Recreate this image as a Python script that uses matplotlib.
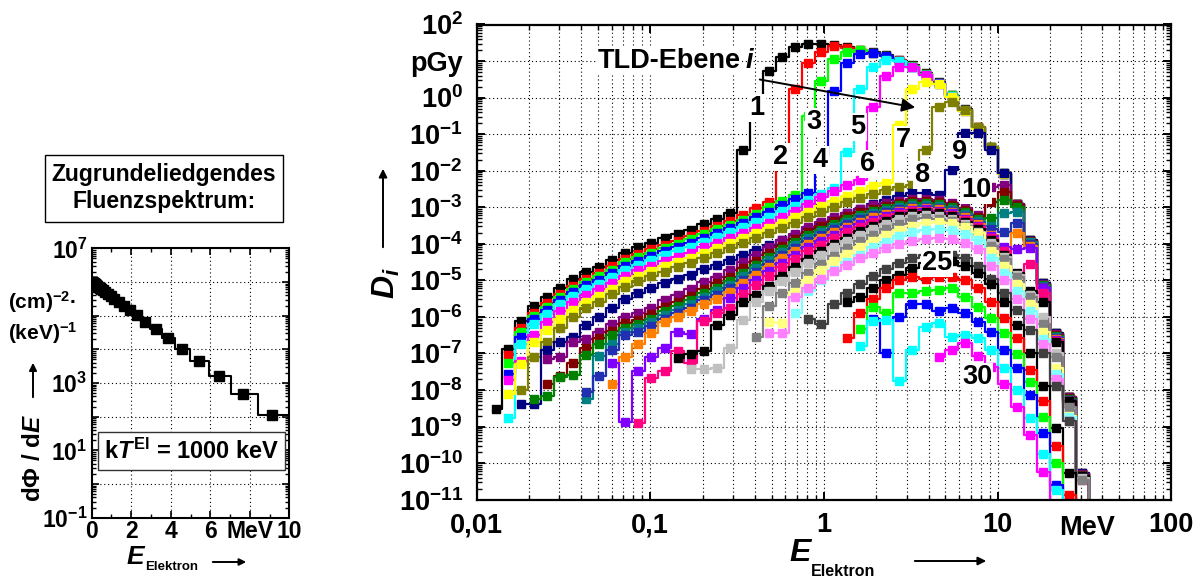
import matplotlib
matplotlib.use('Agg')
import matplotlib.pyplot as plt
from matplotlib.patches import Rectangle
from matplotlib.ticker import LogLocator, NullFormatter
import numpy as np

plt.rcParams['font.family'] = 'Liberation Sans'
plt.rcParams['font.weight'] = 'bold'
plt.rcParams['mathtext.fontset'] = 'custom'
plt.rcParams['mathtext.rm'] = 'Liberation Sans:bold'
plt.rcParams['mathtext.bf'] = 'Liberation Sans:bold'
plt.rcParams['mathtext.sf'] = 'Liberation Sans:bold'
plt.rcParams['mathtext.it'] = 'Liberation Sans:italic:bold'

# energy bin centres (MeV), shared by both panels
energy = [0.0129, 0.0151, 0.0180, 0.0214, 0.0255, 0.0303, 0.0360, 0.0428, 0.0509, 0.0605,
          0.0719, 0.0855, 0.1016, 0.1208, 0.1436, 0.1707, 0.2030, 0.2413, 0.2869, 0.3410,
          0.4055, 0.4820, 0.5731, 0.6814, 0.8100, 0.9629, 1.145, 1.361, 1.618, 1.923,
          2.287, 2.719, 3.232, 3.842, 4.568, 5.431, 6.457, 7.677, 9.127, 10.85,
          12.90, 15.34, 18.24, 21.68, 25.77, 30.64, 36.43]

# fluence spectrum, log10 of dPhi/dE
fluence = [6.00, 6.00, 5.99, 5.99, 5.99, 5.99, 5.98, 5.98, 5.98, 5.97,
           5.97, 5.96, 5.96, 5.95, 5.94, 5.93, 5.91, 5.90, 5.88, 5.85,
           5.82, 5.79, 5.75, 5.70, 5.65, 5.58, 5.50, 5.41, 5.30, 5.17,
           5.01, 4.82, 4.60, 4.33, 4.02, 3.64, 3.20, 2.67, 2.04]

# dose per bin for TLD layer i, log10(D / pGy); first_bin = index of first energy bin
d01 = [-8.51, -6.87, -6.11, -5.70, -5.46, -5.20, -4.97, -4.77, -4.63, -4.44,
       -4.24, -4.10, -3.97, -3.85, -3.74, -3.62, -3.46, -3.33, -3.17, -1.43,
       -0.30, 0.74, 1.12, 1.38, 1.46, 1.47, 1.43, 1.38, 1.31, 1.24,
       1.16, 1.03, 0.88, 0.66, 0.42, 0.08, -0.32, -0.80, -1.34, -2.07,
       -2.90, -3.90, -5.08, -6.45, -8.18, -10.28]
d02 = [-7.05, -6.30, -5.88, -5.63, -5.37, -5.15, -4.95, -4.80, -4.62, -4.42,
       -4.28, -4.15, -4.03, -3.92, -3.80, -3.65, -3.50, -3.37, -3.22, -3.03,
       -2.85, -1.50, 0.23, 0.96, 1.26, 1.41, 1.37, 1.30, 1.23, 1.15,
       1.02, 0.87, 0.65, 0.41, 0.07, -0.33, -0.81, -1.35, -2.08, -2.91,
       -3.91, -5.09, -6.46, -8.19, -10.29]
d03 = [-7.27, -6.40, -5.97, -5.72, -5.46, -5.24, -5.04, -4.89, -4.71, -4.51,
       -4.37, -4.24, -4.12, -4.00, -3.88, -3.74, -3.60, -3.48, -3.34, -3.18,
       -3.00, -2.82, -2.67, -0.50, 0.45, 1.05, 1.26, 1.30, 1.22, 1.14,
       1.01, 0.86, 0.64, 0.40, 0.06, -0.34, -0.82, -1.36, -2.09, -2.92,
       -3.92, -5.10, -6.47, -8.20, -10.30]
d04 = [-7.56, -6.55, -6.06, -5.81, -5.55, -5.33, -5.13, -4.98, -4.80, -4.60,
       -4.46, -4.33, -4.21, -4.09, -3.97, -3.83, -3.70, -3.57, -3.43, -3.28,
       -3.12, -2.95, -2.78, -2.62, -1.60, 0.18, 0.94, 1.18, 1.21, 1.13,
       1.00, 0.85, 0.63, 0.39, 0.05, -0.35, -0.83, -1.37, -2.10, -2.93,
       -3.93, -5.11, -6.48, -8.21, -10.31]
d05 = [-8.77, -6.75, -6.20, -5.92, -5.66, -5.44, -5.24, -5.09, -4.91, -4.71,
       -4.57, -4.44, -4.32, -4.20, -4.08, -3.94, -3.81, -3.68, -3.55, -3.41,
       -3.26, -3.11, -2.96, -2.80, -2.64, -2.48, -1.48, 0.24, 0.85, 1.03,
       0.99, 0.84, 0.62, 0.38, 0.04, -0.36, -0.84, -1.38, -2.10, -2.93,
       -3.93, -5.11, -6.48, -8.21, -10.31]
d06 = [-7.73, -7.22, -6.50, -6.15, -5.85, -5.60, -5.40, -5.25, -5.07, -4.88,
       -4.73, -4.60, -4.48, -4.36, -4.24, -4.10, -3.97, -3.84, -3.71, -3.57,
       -3.42, -3.27, -3.10, -2.92, -2.72, -2.55, -2.40, -2.25, -0.27, 0.59,
       0.85, 0.83, 0.61, 0.37, 0.03, -0.37, -0.85, -1.38, -2.10, -2.93,
       -3.93, -5.11, -6.48, -8.21, -10.31]
d07 = [-8.11, -7.30, -6.70, -6.35, -6.05, -5.80, -5.58, -5.42, -5.23, -5.03,
       -4.88, -4.75, -4.62, -4.50, -4.38, -4.24, -4.11, -3.98, -3.85, -3.71,
       -3.57, -3.42, -3.27, -3.12, -2.97, -2.83, -2.69, -2.56, -2.43, -2.33,
       -0.75, 0.23, 0.44, 0.36, 0.02, -0.38, -0.85, -1.39, -2.10, -2.93,
       -3.93, -5.11, -6.48, -8.21, -10.31]
d08 = [-8.00, -7.10, -6.70, -6.30, -6.00, -5.76, -5.58, -5.38, -5.17, -5.02,
       -4.89, -4.76, -4.64, -4.52, -4.38, -4.25, -4.12, -3.99, -3.85, -3.71,
       -3.57, -3.42, -3.28, -3.14, -3.00, -2.87, -2.75, -2.63, -2.52, -2.44,
       -2.39, -1.43, -0.27, -0.11, -0.34, -0.80, -1.34, -2.07, -2.90, -3.90,
       -5.08, -6.45, -8.18, -10.28]
d09 = [-8.39, -8.39, -6.90, -6.70, -6.55, -6.22, -6.00, -5.75, -5.50, -5.35,
       -5.21, -5.08, -4.96, -4.84, -4.70, -4.57, -4.44, -4.31, -4.18, -4.04,
       -3.90, -3.75, -3.60, -3.45, -3.31, -3.17, -3.04, -2.92, -2.80, -2.70,
       -2.62, -2.60, -2.66, -1.98, -0.98, -0.96, -1.43, -2.07, -2.90, -3.90,
       -5.08, -6.45, -8.18, -10.28]
d10 = [-7.15, -7.10, -6.70, -6.60, -6.40, -6.20, -6.00, -5.90, -5.75, -5.55,
       -5.40, -5.25, -5.05, -4.90, -4.72, -4.50, -4.30, -4.10, -3.90, -3.72,
       -3.55, -3.40, -3.27, -3.15, -3.04, -2.95, -2.88, -2.82, -2.78, -2.77,
       -2.80, -2.88, -3.02, -3.22, -2.44, -2.40, -2.90, -3.92, -5.10, -6.47,
       -8.20, -10.30]
d11 = [-7.84, -7.62, -7.25, -6.85, -6.58, -6.38, -6.18, -6.08, -5.93, -5.73,
       -5.58, -5.43, -5.23, -5.08, -4.90, -4.67, -4.46, -4.25, -4.05, -3.86,
       -3.68, -3.52, -3.38, -3.25, -3.13, -3.04, -2.96, -2.89, -2.84, -2.83,
       -2.86, -2.94, -3.08, -3.28, -2.85, -2.57, -2.95, -3.93, -5.12, -6.50,
       -8.22, -10.32]
d12 = [-8.25, -8.16, -7.64, -7.60, -7.05, -6.75, -6.50, -6.30, -6.20, -6.05,
       -5.85, -5.70, -5.55, -5.35, -5.20, -5.02, -4.79, -4.57, -4.36, -4.15,
       -3.95, -3.77, -3.61, -3.46, -3.33, -3.20, -3.10, -3.02, -2.94, -2.89,
       -2.88, -2.91, -2.99, -3.13, -3.33, -3.30, -2.80, -3.00, -3.94, -5.14,
       -6.52, -8.24, -10.34]
d13 = [-8.25, -7.07, -6.75, -6.40, -6.30, -6.15, -5.95, -5.80, -5.65, -5.45,
       -5.30, -5.12, -4.88, -4.67, -4.45, -4.23, -4.03, -3.85, -3.68, -3.53,
       -3.40, -3.27, -3.16, -3.07, -3.00, -2.94, -2.93, -2.96, -3.04, -3.18,
       -3.38, -3.50, -3.17, -3.12, -3.96, -5.16, -6.55, -8.26, -10.36]
d14 = [-8.05, -7.62, -6.90, -6.50, -6.40, -6.25, -6.05, -5.90, -5.75, -5.55,
       -5.40, -5.22, -4.98, -4.76, -4.54, -4.32, -4.12, -3.93, -3.76, -3.60,
       -3.46, -3.33, -3.22, -3.13, -3.05, -2.99, -2.98, -3.01, -3.09, -3.23,
       -3.43, -3.60, -3.67, -3.44, -4.00, -5.18, -6.57, -8.28, -10.38]
d15 = [-7.84, -7.09, -6.75, -6.45, -6.15, -6.00, -5.85, -5.65, -5.50, -5.32,
       -5.08, -4.85, -4.63, -4.40, -4.20, -4.00, -3.83, -3.67, -3.53, -3.39,
       -3.28, -3.18, -3.10, -3.03, -3.02, -3.05, -3.13, -3.27, -3.47, -3.75,
       -4.22, -3.71, -4.05, -5.20, -6.60, -8.30, -10.40]
d16 = [-7.27, -8.87, -7.47, -7.10, -6.84, -6.40, -6.48, -6.05, -5.81, -5.47,
       -5.22, -4.98, -4.75, -4.52, -4.31, -4.10, -3.92, -3.76, -3.60, -3.46,
       -3.34, -3.24, -3.14, -3.07, -3.06, -3.09, -3.17, -3.31, -3.51, -3.80,
       -4.10, -4.15, -4.12, -5.22, -6.62, -8.32, -10.42]
d17 = [-8.91, -7.68, -7.48, -6.92, -7.27, -6.10, -5.90, -5.75, -5.36, -5.12,
       -4.88, -4.64, -4.42, -4.21, -4.02, -3.84, -3.68, -3.53, -3.40, -3.29,
       -3.19, -3.11, -3.10, -3.13, -3.21, -3.35, -3.55, -3.85, -4.20, -4.85,
       -4.55, -5.35, -6.65, -8.35, -10.45]
d18 = [-7.13, -7.02, -6.93, -6.22, -5.95, -5.60, -5.41, -5.15, -4.88, -4.64,
       -4.41, -4.20, -4.01, -3.83, -3.66, -3.50, -3.37, -3.25, -3.15, -3.14,
       -3.17, -3.25, -3.39, -3.60, -3.90, -4.30, -4.80, -5.30, -5.58, -6.68,
       -8.30, -10.35]
d19 = [-7.43, -7.42, -7.41, -6.86, -6.08, -5.60, -5.30, -5.02, -4.76, -4.52,
       -4.30, -4.10, -3.92, -3.75, -3.59, -3.45, -3.33, -3.23, -3.21, -3.24,
       -3.32, -3.47, -3.68, -3.97, -4.35, -4.85, -5.40, -6.00, -7.00, -8.50,
       -10.40]
d20 = [-6.54, -5.70, -5.35, -5.07, -4.80, -4.55, -4.33, -4.12, -3.93, -3.76,
       -3.60, -3.46, -3.33, -3.30, -3.32, -3.38, -3.52, -3.72, -4.05, -4.42,
       -4.90, -5.45, -6.20, -7.09, -8.46, -10.46]
d21 = [-6.13, -6.18, -5.31, -5.00, -4.72, -4.48, -4.28, -4.10, -3.92, -3.77,
       -3.63, -3.50, -3.43, -3.41, -3.44, -3.53, -3.70, -4.20, -4.60, -5.10,
       -5.65, -6.40, -7.40, -8.70]
d22 = [-5.90, -5.30, -5.00, -4.72, -4.50, -4.30, -4.10, -3.94, -3.80, -3.68,
       -3.62, -3.60, -3.63, -3.72, -3.90, -4.40, -4.80, -5.30, -5.85, -6.60,
       -7.55, -8.75]
d23 = [-6.43, -6.43, -5.45, -5.20, -4.95, -4.75, -4.57, -4.40, -4.25, -4.12,
       -4.00, -3.92, -3.86, -3.85, -3.88, -3.98, -4.15, -4.60, -5.00, -5.50,
       -6.05, -6.75, -7.70, -8.85]
d24 = [-6.07, -6.20, -5.65, -5.35, -5.10, -4.88, -4.68, -4.52, -4.40, -4.30,
       -4.28, -4.30, -4.40, -4.60, -4.95, -5.35, -5.80, -6.35, -7.00, -7.90,
       -8.85]
d25 = [-5.58, -5.45, -5.22, -5.00, -4.85, -4.67, -4.52, -4.44, -4.47, -4.60,
       -4.81, -5.10, -5.60, -6.22, -7.00, -7.90, -9.05, -10.28]
d26 = [-6.59, -5.90, -5.50, -5.20, -5.00, -4.90, -4.95, -4.90, -4.90, -4.99,
       -5.22, -5.58, -6.04, -6.59, -7.45, -8.29, -9.52, -10.87]
d27 = [-6.34, -5.74, -5.90, -5.35, -5.35, -5.30, -5.26, -5.20, -5.45, -5.74,
       -6.04, -6.45, -7.02, -7.77, -8.73, -10.00]
d28 = [-6.05, -7.00, -6.01, -5.65, -5.65, -5.85, -5.75, -5.90, -6.13, -6.42,
       -6.90, -7.41, -8.14, -9.18, -10.60]
d29 = [-6.80, -6.10, -6.08, -7.75, -6.90, -6.27, -6.16, -6.54, -6.50, -6.59,
       -6.90, -7.41, -8.00, -8.77, -9.75, -10.74]
d30 = [-7.09, -6.91, -6.72, -7.07, -7.36, -7.84, -8.46, -9.23, -10.24]

first_bin = [0, 1, 1, 1, 1, 1, 1, 2, 2, 4, 4, 3, 7, 7, 9, 9, 11, 14, 15, 20,
             21, 23, 21, 24, 27, 27, 28, 29, 28, 34]
curve_colors = ['#000000', '#FF0000', '#00FF00', '#0000FF', '#00FFFF', '#FF00FF',
                '#FFFF00', '#808000', '#000080', '#800080', '#800000', '#008000',
                '#008080', '#2030B0', '#FF8000', '#8000FF', '#FF0080', '#000000',
                '#C0C0C0', '#808080', '#FFFF80', '#80FFFF', '#FF80FF', '#404040',
                '#000000', '#FF0000', '#00FF00', '#0000FF', '#00FFFF', '#FF00FF']
dose = [d01, d02, d03, d04, d05, d06, d07, d08, d09, d10, d11, d12, d13, d14, d15,
        d16, d17, d18, d19, d20, d21, d22, d23, d24, d25, d26, d27, d28, d29, d30]

left_xticks = ['0', '2', '4', '6', 'MeV', '10']
left_yticks = [r'$10^{-1}$', '', r'$10^{1}$', '', r'$10^{3}$', '', '', '', r'$10^{7}$']
right_xticks = ['0,01', '0,1', '1', '10', '100']
right_yticks = [r'$10^{-11}$', r'$10^{-10}$', r'$10^{-9}$', r'$10^{-8}$', r'$10^{-7}$',
                r'$10^{-6}$', r'$10^{-5}$', r'$10^{-4}$', r'$10^{-3}$', r'$10^{-2}$',
                r'$10^{-1}$', r'$10^{0}$', 'pGy', r'$10^{2}$']
curve_labels = ['1', '2', '3', '4', '5', '6', '7', '8', '9', '10', '25', '30']
label_pos = [(757, 108), (781, 157), (814, 122), (820, 160), (858, 127), (868, 164),
             (903, 140), (922, 175), (960, 152), (976, 190), (937, 263), (977, 377)]

W, H = 1204, 579
fig = plt.figure(figsize=(W / 100, H / 100), dpi=100)


def fpos(x, y):
    return x / W, 1 - y / H


def arrow(x0, y0, x1, y1, ms=14):
    fig.add_artist(matplotlib.patches.FancyArrowPatch(
        (x0, H - y0), (x1, H - y1), transform=None, arrowstyle='-|>',
        mutation_scale=ms, lw=1.4, color='k'))


grid_kw = dict(color='k', lw=0.8, ls=(0, (1, 2.5)))

# ---- left panel: fluence spectrum
ax1 = fig.add_axes([91.7 / W, 1 - 517.7 / H, 197.6 / W, 269.4 / H])
ax1.set_yscale('log')
ax1.set_xlim(0, 10)
ax1.set_ylim(0.1, 1e7)
fl = [10.0 ** v for v in fluence]
ax1.plot(energy[:len(fl) + 1], fl + [fl[-1]], drawstyle='steps-mid', color='k', lw=1.5)
ax1.plot(energy[:len(fl)], fl, ls='none', marker='s', ms=6.5, color='k')
ax1.set_xticks([0, 2, 4, 6, 8, 10])
ax1.set_xticklabels(left_xticks, fontsize=16.5)
ax1.set_xticks([1, 3, 5, 7, 9], minor=True)
ax1.set_yticks([10.0 ** k for k in range(-1, 8)])
ax1.set_yticklabels(left_yticks, fontsize=16.5)
ax1.yaxis.set_minor_locator(LogLocator(base=10, subs=np.arange(2, 10), numticks=30))
ax1.yaxis.set_minor_formatter(NullFormatter())
ax1.tick_params(which='both', direction='in', top=True, right=True)
ax1.tick_params(which='major', length=5, width=1.2)
ax1.tick_params(which='minor', length=3, width=1)
ax1.tick_params(axis='x', pad=2)
ax1.tick_params(axis='y', pad=3)
ax1.grid(True, which='major', **grid_kw)
ax1.set_axisbelow(True)
for s in ax1.spines.values():
    s.set_linewidth(1.5)

# ---- right panel: dose per energy bin
ax2 = fig.add_axes([476.6 / W, 1 - 499.65 / H, 694.8 / W, 475.15 / H])
ax2.set_xscale('log')
ax2.set_yscale('log')
for vals, b0, col in zip(dose, first_bin, curve_colors):
    xs = energy[b0:b0 + len(vals) + 1]
    ys = [10.0 ** v for v in vals] + [1e-14]
    ax2.plot(xs, ys, drawstyle='steps-mid', color=col, lw=1.6,
             marker='s', ms=5.5, mec=col, mfc=col)
ax2.set_xlim(0.01, 100)
ax2.set_ylim(1e-11, 1e2)
ax2.set_xticks([0.01, 0.1, 1, 10, 100])
ax2.set_xticklabels(right_xticks, fontsize=19.5)
ax2.xaxis.set_minor_locator(LogLocator(base=10, subs=np.arange(2, 10), numticks=30))
ax2.xaxis.set_minor_formatter(NullFormatter())
ax2.set_yticks([10.0 ** k for k in range(-11, 3)])
ax2.set_yticklabels(right_yticks, fontsize=19.5)
ax2.yaxis.set_minor_locator(LogLocator(base=10, subs=np.arange(2, 10), numticks=30))
ax2.yaxis.set_minor_formatter(NullFormatter())
ax2.tick_params(which='both', direction='in', top=True, right=True)
ax2.tick_params(which='major', length=6, width=1.4)
ax2.tick_params(which='minor', length=3.5, width=1)
ax2.tick_params(axis='x', pad=9)
ax2.tick_params(axis='y', pad=10)
ax2.grid(True, axis='x', which='both', **grid_kw)
ax2.grid(True, axis='y', which='major', **grid_kw)
ax2.set_axisbelow(True)
for s in ax2.spines.values():
    s.set_linewidth(1.6)

# curve labels with white background
for txt, (px, py) in zip(curve_labels, label_pos):
    fig.text(*fpos(px, py), txt, fontsize=19.5, ha='center', va='center',
             bbox=dict(boxstyle='square,pad=0.05', fc='white', ec='none'))
fig.text(*fpos(741, 61), 'TLD-Ebene', fontsize=19.5, ha='right', va='center',
         bbox=dict(boxstyle='square,pad=0.05', fc='white', ec='none'))
fig.text(*fpos(746, 61), 'i', fontsize=19.5, style='italic', ha='left', va='center')
arrow(757, 79, 918, 108, ms=20)

# right axis titles
fig.text(*fpos(1087, 528), 'MeV', fontsize=19.5, ha='center', va='center')
fig.text(*fpos(801, 553), r'$E$', fontsize=23, ha='center', va='center')
fig.text(*fpos(811, 571), 'Elektron', fontsize=11.5, ha='left', va='center')
arrow(912, 561, 989, 561, ms=12)
fig.text(*fpos(386, 283), r'$D_{i}$', fontsize=23, rotation=90, ha='center', va='center')
arrow(383, 250, 383, 166, ms=12)

# left panel annotations
fig.patches.append(Rectangle(fpos(45, 222), 238 / W, 67 / H, transform=fig.transFigure,
                             fill=True, fc='white', ec='k', lw=1.0))
fig.text(*fpos(164, 188), 'Zugrundeliedgendes\nFluenzspektrum:', fontsize=16.5,
         ha='center', va='center', multialignment='center', linespacing=1.25)
fig.patches.append(Rectangle(fpos(98, 470), 187 / W, 38 / H, transform=fig.transFigure,
                             fill=True, fc='white', ec='#333333', lw=1.0, zorder=3))
fig.text(*fpos(192, 451), r'k$T^{\mathbf{El}}$ = 1000 keV', fontsize=17,
         ha='center', va='center', zorder=4)
fig.text(*fpos(8, 302), r'(cm)$^{-2}$·', fontsize=15, ha='left', va='center')
fig.text(*fpos(8, 333), r'(keV)$^{-1}$', fontsize=15, ha='left', va='center')
fig.text(*fpos(34, 458), r'd$\mathit{\Phi}$ / d$E$', fontsize=17.5, rotation=90,
         ha='center', va='center')
arrow(33, 400, 33, 360, ms=11)
fig.text(*fpos(136, 557), r'$E$', fontsize=19, ha='center', va='center')
fig.text(*fpos(145, 567), 'Elektron', fontsize=9.5, ha='left', va='center')
arrow(210, 562, 249, 562, ms=10)

fig.savefig('out.png', dpi=100)
